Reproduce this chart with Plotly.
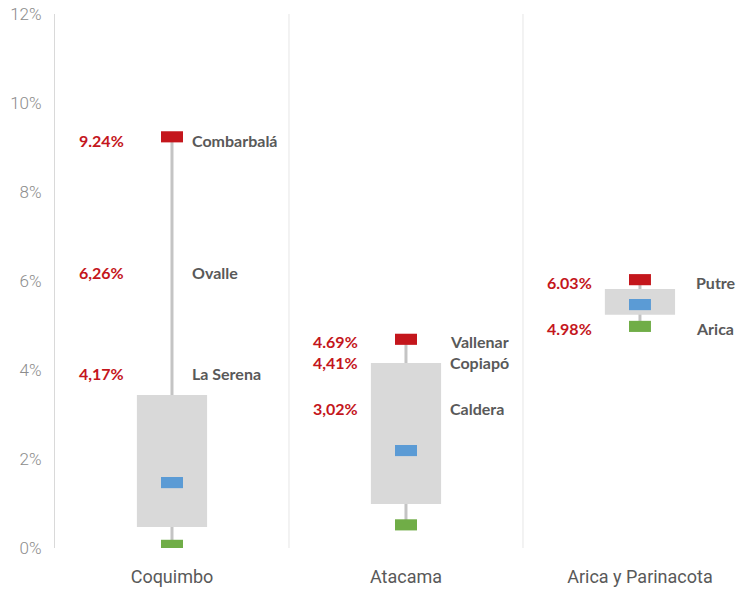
import plotly.graph_objects as go

# ---- data ----
regions = ["Coquimbo", "Atacama", "Arica y Parinacota"]
max_vals = [9.24, 4.69, 6.03]
q3_vals = [3.44, 4.16, 5.82]
mid_vals = [1.47, 2.19, 5.47]
q1_vals = [0.47, 0.99, 5.24]
min_vals = [0.06, 0.52, 4.98]

label_pct = [["9.24%", "6,26%", "4,17%"], ["4.69%", "4,41%", "3,02%"], ["6.03%", "4.98%"]]
label_names = [["Combarbalá", "Ovalle", "La Serena"], ["Vallenar", "Copiapó", "Caldera"], ["Putre", "Arica"]]

y_ticks = [0, 2, 4, 6, 8, 10, 12]
y_tick_text = ["0%", "2%", "4%", "6%", "8%", "10%", "12%"]

# ---- layout helpers (positions / styles) ----
label_y = [[9.15, 6.20, 3.93], [4.65, 4.17, 3.14], [5.96, 4.94]]
name_dx = [0.075, 0.18, 0.23]
pct_dx = -0.30

RED = "#C4161C"
BLUE = "#5B9BD5"
GREEN = "#70AD47"
BOX = "#D9D9D9"
WHISK = "#C4C4C4"
TXT = "#595959"

xs = list(range(len(regions)))
mh = 0.25  # marker height in % units

fig = go.Figure()
# whiskers
fig.add_trace(go.Bar(x=xs, y=[a - b for a, b in zip(max_vals, min_vals)], base=min_vals,
                     width=0.0128, marker=dict(color=WHISK, line_width=0), hoverinfo="skip"))
# boxes
fig.add_trace(go.Bar(x=xs, y=[a - b for a, b in zip(q3_vals, q1_vals)], base=q1_vals,
                     width=0.30, marker=dict(color=BOX, line_width=0), hoverinfo="skip"))
# markers
for vals, col in [(max_vals, RED), (mid_vals, BLUE), (min_vals, GREEN)]:
    fig.add_trace(go.Bar(x=xs, y=[mh] * len(vals), base=[v - mh / 2 for v in vals],
                         width=0.094, marker=dict(color=col, line_width=0), hoverinfo="skip"))

# separators
for sx in [0.5, 1.5]:
    fig.add_shape(type="line", x0=sx, x1=sx, y0=0, y1=12, xref="x", yref="y",
                  line=dict(color="#E6E6E6", width=1), layer="below")

ann = []
for i in xs:
    for pct, name, ly in zip(label_pct[i], label_names[i], label_y[i]):
        ann.append(dict(x=i + pct_dx, y=ly, text="<b>%s</b>" % pct, showarrow=False,
                        xanchor="center", yanchor="middle",
                        font=dict(family="Lato", size=16, color=RED)))
        ann.append(dict(x=i + name_dx[i], y=ly, text="<b>%s</b>" % name, showarrow=False,
                        xanchor="left", yanchor="middle",
                        font=dict(family="Lato", size=16, color=TXT)))

fig.update_layout(
    width=749, height=589,
    margin=dict(l=55, r=0, t=14, b=41),
    paper_bgcolor="white", plot_bgcolor="white",
    barmode="overlay", showlegend=False,
    annotations=ann,
    xaxis=dict(range=[-0.5, 2.466], tickvals=xs, ticktext=regions, showgrid=False,
               zeroline=False, showline=False, ticks="", ticklabelstandoff=16,
               tickfont=dict(family="Roboto", size=18, color=TXT)),
    yaxis=dict(range=[0, 12], tickvals=y_ticks, ticktext=y_tick_text, showgrid=False,
               zeroline=False, showline=True, linecolor="#D9D9D9", linewidth=1,
               ticks="", ticklabelstandoff=9,
               tickfont=dict(family="Roboto", size=17, color="#8C8C8C", weight=300)),
)

fig.write_html("out.html", config={"displayModeBar": False},
               post_script="document.body.style.margin='0';")
